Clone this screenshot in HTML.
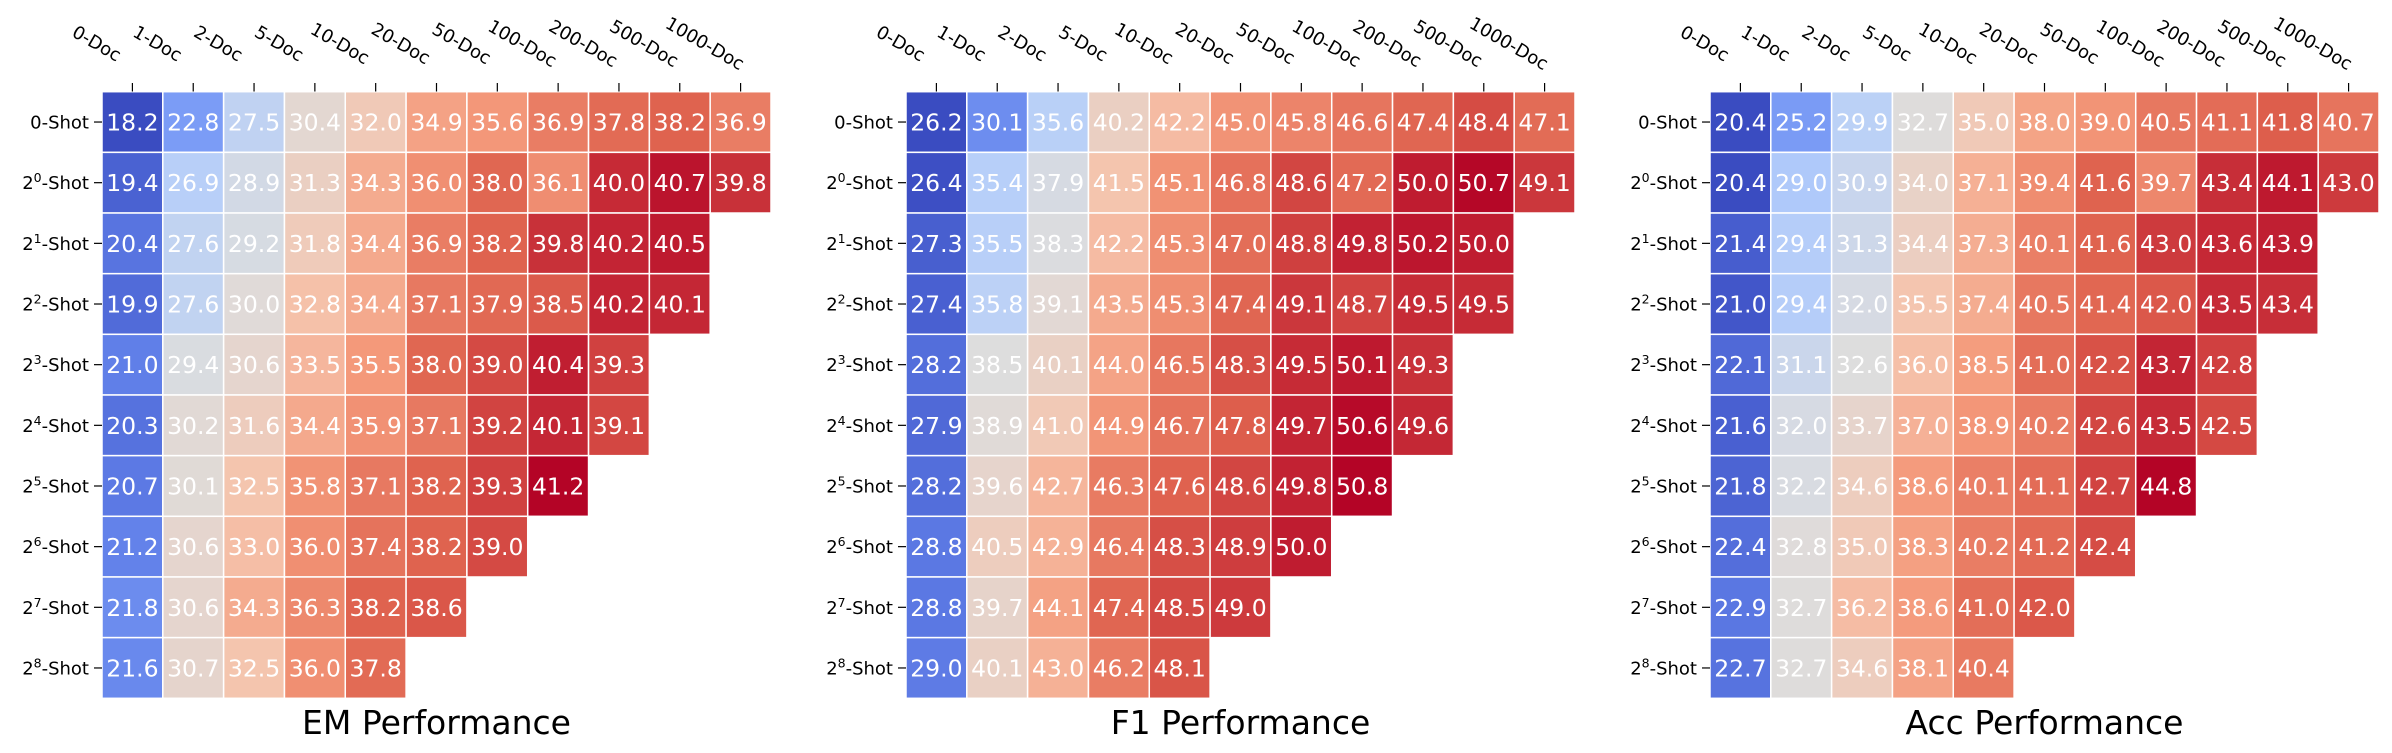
<!DOCTYPE html>
<html><head><meta charset="utf-8">
<style>
html,body{margin:0;padding:0;background:#fff;}
svg{display:block;font-family:"DejaVu Sans","Liberation Sans",sans-serif;}
</style></head>
<body>
<svg id="s" width="2392" height="753" xmlns="http://www.w3.org/2000/svg"></svg>
<script>
const data = {
EM:[[18.2,22.8,27.5,30.4,32.0,34.9,35.6,36.9,37.8,38.2,36.9],
[19.4,26.9,28.9,31.3,34.3,36.0,38.0,36.1,40.0,40.7,39.8],
[20.4,27.6,29.2,31.8,34.4,36.9,38.2,39.8,40.2,40.5],
[19.9,27.6,30.0,32.8,34.4,37.1,37.9,38.5,40.2,40.1],
[21.0,29.4,30.6,33.5,35.5,38.0,39.0,40.4,39.3],
[20.3,30.2,31.6,34.4,35.9,37.1,39.2,40.1,39.1],
[20.7,30.1,32.5,35.8,37.1,38.2,39.3,41.2],
[21.2,30.6,33.0,36.0,37.4,38.2,39.0],
[21.8,30.6,34.3,36.3,38.2,38.6],
[21.6,30.7,32.5,36.0,37.8]],
F1:[[26.2,30.1,35.6,40.2,42.2,45.0,45.8,46.6,47.4,48.4,47.1],
[26.4,35.4,37.9,41.5,45.1,46.8,48.6,47.2,50.0,50.7,49.1],
[27.3,35.5,38.3,42.2,45.3,47.0,48.8,49.8,50.2,50.0],
[27.4,35.8,39.1,43.5,45.3,47.4,49.1,48.7,49.5,49.5],
[28.2,38.5,40.1,44.0,46.5,48.3,49.5,50.1,49.3],
[27.9,38.9,41.0,44.9,46.7,47.8,49.7,50.6,49.6],
[28.2,39.6,42.7,46.3,47.6,48.6,49.8,50.8],
[28.8,40.5,42.9,46.4,48.3,48.9,50.0],
[28.8,39.7,44.1,47.4,48.5,49.0],
[29.0,40.1,43.0,46.2,48.1]],
Acc:[[20.4,25.2,29.9,32.7,35.0,38.0,39.0,40.5,41.1,41.8,40.7],
[20.4,29.0,30.9,34.0,37.1,39.4,41.6,39.7,43.4,44.1,43.0],
[21.4,29.4,31.3,34.4,37.3,40.1,41.6,43.0,43.6,43.9],
[21.0,29.4,32.0,35.5,37.4,40.5,41.4,42.0,43.5,43.4],
[22.1,31.1,32.6,36.0,38.5,41.0,42.2,43.7,42.8],
[21.6,32.0,33.7,37.0,38.9,40.2,42.6,43.5,42.5],
[21.8,32.2,34.6,38.6,40.1,41.1,42.7,44.8],
[22.4,32.8,35.0,38.3,40.2,41.2,42.4],
[22.9,32.7,36.2,38.6,41.0,42.0],
[22.7,32.7,34.6,38.1,40.4]]};
const cm=[[58,76,193],[97,128,233],[140,175,254],[183,207,249],[221,221,221],[245,196,173],[244,154,123],[222,96,77],[180,4,38]];
function col(t){t=Math.max(0,Math.min(1,t));const p=t*8,i=Math.min(7,Math.floor(p)),f=p-i;
const a=cm[i],b=cm[i+1];return `rgb(${a.map((v,k)=>Math.round(v+(b[k]-v)*f)).join(',')})`;}
const xl=["0-Doc","1-Doc","2-Doc","5-Doc","10-Doc","20-Doc","50-Doc","100-Doc","200-Doc","500-Doc","1000-Doc"];
const W=669/11,H=606.6/10,Y0=91.7;
let out="";
[["EM",102,"EM Performance"],["F1",906,"F1 Performance"],["Acc",1710,"Acc Performance"]].forEach(([k,X0,title])=>{
 const d=data[k];const all=d.flat();const mn=Math.min(...all),mx=Math.max(...all);
 d.forEach((row,r)=>row.forEach((v,c)=>{
  const x=X0+c*W,y=Y0+r*H;
  out+=`<rect x="${x}" y="${y}" width="${W}" height="${H}" fill="${col((v-mn)/(mx-mn))}" stroke="#fff" stroke-width="1.5"/>`;
  out+=`<text x="${x+W/2}" y="${y+H/2+8.5}" fill="#fff" font-size="23.5" text-anchor="middle">${v.toFixed(1)}</text>`;
 }));
 xl.forEach((l,c)=>{const tx=X0+c*W+W/2;
  out+=`<line x1="${tx}" y1="83" x2="${tx}" y2="91.5" stroke="#000" stroke-width="1.2"/>`;
  out+=`<text transform="translate(${tx-36},44) rotate(30)" font-size="18" text-anchor="middle" dominant-baseline="central" fill="#000">${l}</text>`;});
 for(let r=0;r<10;r++){const cy=Y0+r*H+H/2;
  out+=`<line x1="${X0-8}" y1="${cy}" x2="${X0}" y2="${cy}" stroke="#000" stroke-width="1.2"/>`;
  const lab=r==0?"0-Shot":`2<tspan font-size="12.5" dy="-7">${r-1}</tspan><tspan dy="7">-Shot</tspan>`;
  out+=`<text x="${X0-13}" y="${cy+6.5}" font-size="18" text-anchor="end" fill="#000">${lab}</text>`;}
 out+=`<text x="${X0+334.5}" y="734" font-size="33" text-anchor="middle" fill="#000">${title}</text>`;
});
document.getElementById("s").innerHTML=out;
</script>
</body></html>
